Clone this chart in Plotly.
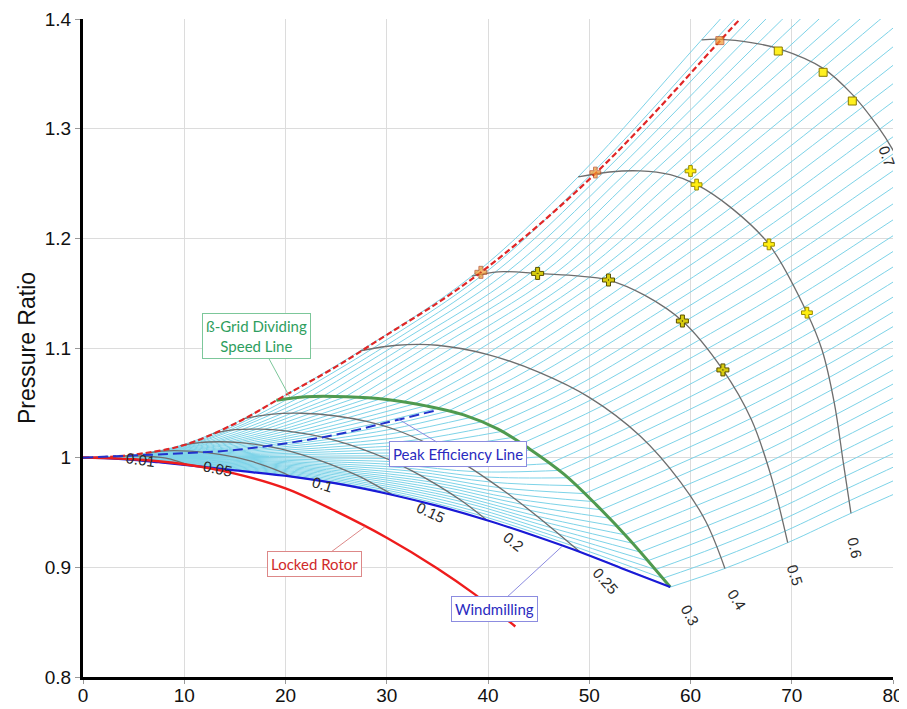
import numpy as np
import plotly.graph_objects as go

# ---------------- data ----------------
speed_values = [0.01, 0.05, 0.1, 0.15, 0.2, 0.25, 0.3, 0.4, 0.5, 0.6, 0.7]

n001_x = [0.64, 1.2, 1.8, 2.1]
n001_y = [1.00007, 1.0001, 0.99995, 0.9996]
n005_x = [3.2, 4.2, 5.2, 6.2, 7.2, 8.2, 9.3, 10.5]
n005_y = [1.001, 1.0015, 1.0016, 1.0013, 1.0006, 0.9995, 0.9968, 0.993]
n010_x = [6.4, 7.7, 9.0, 10.5, 12.0, 13.5, 15.0, 16.5, 18.0, 19.3, 20.6]
n010_y = [1.0043, 1.006, 1.0065, 1.006, 1.0048, 1.003, 1.0005, 0.997, 0.9925, 0.988, 0.9827]
n015_x = [9.6, 11.5, 13.5, 15.5, 17.5, 19.5, 21.5, 23.5, 25.5, 27.5, 29.0, 30.6]
n015_y = [1.011, 1.0138, 1.0145, 1.0137, 1.0115, 1.008, 1.003, 0.997, 0.99, 0.982, 0.9745, 0.966]
n020_x = [12.8, 15.0, 17.5, 20.0, 22.5, 25.0, 27.5, 30.0, 32.5, 35.0, 37.5, 39.9]
n020_y = [1.022, 1.0255, 1.026, 1.0245, 1.021, 1.0155, 1.008, 0.999, 0.988, 0.975, 0.96, 0.943]
n025_x = [15.9, 18.5, 21.5, 25.0, 28.0, 31.0, 34.0, 37.0, 40.0, 43.0, 46.0, 49.1]
n025_y = [1.0355, 1.0395, 1.0405, 1.038, 1.033, 1.025, 1.013, 0.998, 0.98, 0.96, 0.938, 0.914]
n030_x = [19.1, 22.0, 26.0, 30.0, 34.0, 37.6, 41.0, 44.1, 47.5, 50.7, 54.0, 58.0]
n030_y = [1.0523, 1.0555, 1.0555, 1.053, 1.047, 1.039, 1.026, 1.008, 0.985, 0.957, 0.925, 0.882]
n040_x = [27.4, 31.0, 35.0, 40.0, 45.0, 50.0, 55.0, 59.0, 61.5, 63.4]
n040_y = [1.0975, 1.1025, 1.1025, 1.094, 1.078, 1.055, 1.02, 0.978, 0.942, 0.899]
n050_x = [38.4, 41.0, 44.9, 48.5, 51.9, 55.5, 59.2, 63.2, 66.0, 67.9, 69.6]
n050_y = [1.1655, 1.1695, 1.168, 1.166, 1.162, 1.148, 1.1246, 1.080, 1.035, 0.985, 0.9225]
n060_x = [48.9, 52.0, 55.0, 58.0, 60.6, 64.0, 67.75, 71.5, 73.0, 74.2, 75.1, 75.85]
n060_y = [1.256, 1.2605, 1.2615, 1.258, 1.249, 1.228, 1.1945, 1.1322, 1.098, 1.05, 0.995, 0.9493]
n070_x = [61.1, 63.0, 66.0, 68.7, 73.1, 76.0, 78.5, 80.0, 82.0, 83.6, 85.0, 86.0, 86.6]
n070_y = [1.381, 1.3815, 1.3785, 1.373, 1.355, 1.331, 1.302, 1.2805, 1.245, 1.2, 1.13, 1.06, 0.993]

speed_x = [n001_x, n005_x, n010_x, n015_x, n020_x, n025_x, n030_x,
           n040_x, n050_x, n060_x, n070_x]
speed_y = [n001_y, n005_y, n010_y, n015_y, n020_y, n025_y, n030_y,
           n040_y, n050_y, n060_y, n070_y]

surge_x = [0, 3, 6, 10, 15, 20, 25, 30, 35, 39.3, 45, 50.7, 56, 62.9, 64.9]
surge_y = [1.0, 1.001, 1.004, 1.0115, 1.031, 1.057, 1.083, 1.112, 1.141, 1.169,
           1.212, 1.26, 1.31, 1.38, 1.4]

windmill_x = [0, 2.1, 5, 7.5, 10.5, 15, 20.6, 25, 30.6, 35, 39.9, 44.5, 49.1, 53.5, 58]
windmill_y = [1.0, 0.9996, 0.998, 0.9958, 0.993, 0.9884, 0.9827, 0.9765, 0.966,
              0.956, 0.943, 0.929, 0.914, 0.898, 0.882]

locked_x = [0, 5, 10, 15, 20, 25, 30, 35, 38.6, 42.7]
locked_y = [1.0, 0.9985, 0.994, 0.9855, 0.972, 0.951, 0.927, 0.899, 0.876, 0.846]

peak_eff_x = [0, 5, 10, 15, 20, 25, 30, 34.8]
peak_eff_y = [1.0, 1.002, 1.004, 1.007, 1.013, 1.021, 1.032, 1.043]

# operating points
pts05_x = [44.9, 51.9, 59.2, 63.2]
pts05_y = [1.168, 1.162, 1.1246, 1.080]
pts06_x = [60.0, 60.6, 67.75, 71.5]
pts06_y = [1.2614, 1.249, 1.1945, 1.1322]
pts07_x = [68.67, 73.1, 75.98]
pts07_y = [1.3708, 1.3514, 1.3252]
surge_pts_x = [39.3, 50.6, 62.9]
surge_pts_y = [1.169, 1.26, 1.3803]

speed_labels = ["0.01", "0.05", "0.1", "0.15", "0.2", "0.25", "0.3", "0.4", "0.5", "0.6", "0.7"]

# label placement (layout)
label_pos_x = [5.63, 13.27, 23.67, 34.34, 42.5, 51.56, 60.0, 64.6, 70.32, 76.25, 79.4]
label_pos_y = [0.9985, 0.9897, 0.9751, 0.9498, 0.9234, 0.8878, 0.8565, 0.8711, 0.8924, 0.9183, 1.2745]
label_angle = [8, 12, 18, 25, 38, 48, 62, 58, 72, 78, 70]

# ---------------- beta grid derived from speed lines ----------------
XS, YS = 10.125, 1096.7  # pixel scale for arc length
n_beta = 41
betas = np.linspace(0.0, 1.0, n_beta)


def resample(xs, ys, fr):
    xs = np.asarray(xs, float)
    ys = np.asarray(ys, float)
    d = np.hypot(np.diff(xs) * XS, np.diff(ys) * YS)
    s = np.concatenate([[0.0], np.cumsum(d)])
    s /= s[-1]
    return np.interp(fr, s, xs), np.interp(fr, s, ys)


samples = [resample(sx, sy, betas) for sx, sy in zip(speed_x, speed_y)]
low_idx = [0, 1, 2, 3, 4, 5, 6]
up_idx = [6, 7, 8, 9, 10]

gx_low, gy_low, gx_up, gy_up = [], [], [], []
for j in range(n_beta):
    gx_low += [0.0] + [samples[i][0][j] for i in low_idx] + [None]
    gy_low += [1.0] + [samples[i][1][j] for i in low_idx] + [None]
    ux = [samples[i][0][j] for i in up_idx]
    uy = [samples[i][1][j] for i in up_idx]
    ux.append(2 * ux[-1] - ux[-2])
    uy.append(2 * uy[-1] - uy[-2])
    gx_up += ux + [None]
    gy_up += uy + [None]

CYAN = "#7DD3E8"
fig = go.Figure()
fig.add_trace(go.Scatter(x=gx_low, y=gy_low, mode="lines", line=dict(color=CYAN, width=1, shape="spline"),
                         hoverinfo="skip", showlegend=False))
fig.add_trace(go.Scatter(x=gx_up, y=gy_up, mode="lines", line=dict(color=CYAN, width=1, shape="spline"),
                         hoverinfo="skip", showlegend=False))

for k, (sx, sy) in enumerate(zip(speed_x, speed_y)):
    if speed_values[k] == 0.3:
        continue
    fig.add_trace(go.Scatter(x=sx, y=sy, mode="lines", line=dict(color="#6E6E6E", width=1.3, shape="spline"),
                             name=f"N={speed_values[k]}", showlegend=False))

fig.add_trace(go.Scatter(x=n030_x, y=n030_y, mode="lines", line=dict(color="#4F9A4F", width=3, shape="spline"),
                         showlegend=False))
fig.add_trace(go.Scatter(x=windmill_x, y=windmill_y, mode="lines", line=dict(color="#1A1AD6", width=2.2, shape="spline"),
                         showlegend=False))
fig.add_trace(go.Scatter(x=locked_x, y=locked_y, mode="lines", line=dict(color="#EE1C1C", width=2.4, shape="spline"),
                         showlegend=False))
fig.add_trace(go.Scatter(x=surge_x, y=surge_y, mode="lines", line=dict(color="#E02626", width=2.2, dash="6px,3px", shape="spline"),
                         showlegend=False))
fig.add_trace(go.Scatter(x=peak_eff_x, y=peak_eff_y, mode="lines", line=dict(color="#2233CC", width=2, dash="10px,5px", shape="spline"),
                         showlegend=False))

fig.add_trace(go.Scatter(x=pts05_x, y=pts05_y, mode="markers",
                         marker=dict(symbol="cross-dot", size=10, color="#D8CC10", line=dict(color="#5A5000", width=1)),
                         showlegend=False))
fig.add_trace(go.Scatter(x=pts06_x, y=pts06_y, mode="markers",
                         marker=dict(symbol="cross", size=9, color="#FFEE10", line=dict(color="#9A8A00", width=1)),
                         showlegend=False))
fig.add_trace(go.Scatter(x=pts07_x, y=pts07_y, mode="markers",
                         marker=dict(symbol="square", size=8, color="#FFF020", line=dict(color="#8A7A00", width=1)),
                         showlegend=False))
fig.add_trace(go.Scatter(x=surge_pts_x, y=surge_pts_y, mode="markers",
                         marker=dict(symbol=["cross-dot", "cross", "square"], size=[10, 9, 8], color="#F29A2E",
                                     line=dict(color="#B0401A", width=1)),
                         showlegend=False))

annotations = []
for t, lx, ly, ang in zip(speed_labels, label_pos_x, label_pos_y, label_angle):
    annotations.append(dict(x=lx, y=ly, xref="x", yref="y", text=t, showarrow=False, textangle=ang,
                            font=dict(family="Liberation Sans, Arial", size=15, color="#2A2A2A")))

callouts = [
    ("ß-Grid Dividing<br>Speed Line", 20.4, 1.0556, 17.15, 1.111, "#2E9E5E", "#7CC79A"),
    ("Locked Rotor", 27.85, 0.937, 22.9, 0.903, "#D02A2A", "#DD8888"),
    ("Peak Efficiency Line", 31.0, 1.036, 37.0, 1.003, "#2A2AC0", "#8C8CE0"),
    ("Windmilling", 47.3, 0.919, 40.6, 0.862, "#2A2AC0", "#8C8CE0"),
]
for text, x, y, ax, ay, fc, bc in callouts:
    annotations.append(dict(x=x, y=y, xref="x", yref="y", ax=ax, ay=ay, axref="x", ayref="y",
                            text=text, showarrow=True, arrowhead=0, arrowwidth=1, arrowcolor=bc,
                            bordercolor=bc, borderwidth=1, borderpad=3, bgcolor="white",
                            font=dict(family="Lato, Noto Sans", size=15, color=fc)))

# the page places the figure 8px in from the top-left corner
fig.update_layout(
    width=907, height=709,
    margin=dict(l=75, r=22, t=11, b=40),
    paper_bgcolor="white", plot_bgcolor="white",
    annotations=annotations,
    font=dict(family="Liberation Sans, Arial", color="#111111"),
    xaxis=dict(range=[0, 80], dtick=10, tick0=0, showgrid=True, gridcolor="#DCDCDC", gridwidth=1,
               showline=True, linecolor="black", linewidth=3, zeroline=False, automargin=False,
               ticks="outside", ticklen=4, tickcolor="#999999", tickfont=dict(size=19),
               ticklabelstandoff=-5),
    yaxis=dict(range=[0.8, 1.4], dtick=0.1, tick0=0.8, showgrid=True, gridcolor="#DCDCDC", gridwidth=1,
               showline=True, linecolor="black", linewidth=3, zeroline=False, automargin=False,
               ticks="outside", ticklen=5, tickcolor="#999999", tickfont=dict(size=19),
               title=dict(text="Pressure Ratio", font=dict(size=23), standoff=3)),
)

fig.write_html("out.html")
